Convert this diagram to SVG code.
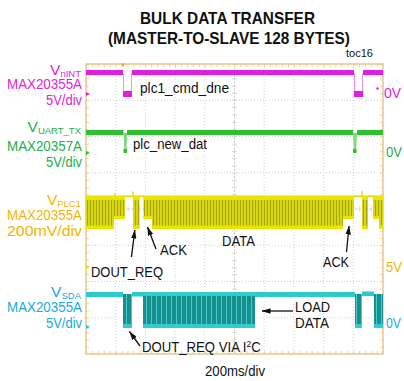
<svg xmlns="http://www.w3.org/2000/svg" width="404" height="381" viewBox="0 0 404 381">
  <style>
    text { font-family: "Liberation Sans", Arial, sans-serif; }
    .title { font-size: 16.5px; font-weight: bold; fill: #111; }
    .lbl { font-size: 15.5px; }
    .sub { font-size: 9.5px; }
    .note { font-size: 14px; fill: #111; }
    .pink { fill: #e01ed8; }
    .green { fill: #22b04a; }
    .amber { fill: #f2b400; }
    .sky { fill: #1aa8e0; }
    .grid { stroke: #cfcfcf; stroke-width: 1; stroke-dasharray: 1 2; fill: none; }
    .tick { stroke: #cfcfcf; fill: none; }
    .arrow { stroke: #111; stroke-width: 1.3; fill: none; marker-end: url(#head); }
  </style>
  <defs>
    <marker id="head" viewBox="0 0 10 6" refX="9.5" refY="3" markerWidth="9" markerHeight="5.4" markerUnits="userSpaceOnUse" orient="auto">
      <path d="M0,0 L10,3 L0,6 Z" fill="#111"/>
    </marker>
    <pattern id="yData" width="3" height="60" patternUnits="userSpaceOnUse">
      <rect width="3" height="60" fill="#d6d616"/>
      <rect width="1" height="60" fill="#a8a800"/>
    </pattern>
    <pattern id="cData" width="5" height="60" patternUnits="userSpaceOnUse">
      <rect width="5" height="60" fill="#169090"/>
      <rect x="1" width="1" height="60" fill="#4cc8c8"/>
    </pattern>
  </defs>

  <rect width="404" height="381" fill="#ffffff"/>

  <!-- heading -->
  <g id="heading">
    <text class="title" x="227.5" y="23.5" text-anchor="middle" textLength="175" lengthAdjust="spacingAndGlyphs">BULK DATA TRANSFER</text>
    <text class="title" x="229" y="43.5" text-anchor="middle" textLength="242" lengthAdjust="spacingAndGlyphs">(MASTER-TO-SLAVE 128 BYTES)</text>
    <text x="346" y="57" font-size="10.5" fill="#111" textLength="27" lengthAdjust="spacingAndGlyphs">toc16</text>
  </g>

  <!-- scope graticule -->
  <g id="graticule">
    <path class="grid" d="M115.7,64V354 M145.4,64V354 M175.1,64V354 M204.8,64V354 M264.2,64V354 M293.9,64V354 M323.6,64V354 M353.3,64V354"/>
    <path class="grid" d="M86,100.25H383 M86,136.5H383 M86,172.75H383 M86,245.25H383 M86,281.5H383 M86,317.75H383"/>
    <path d="M234.5,64V354 M86,209H383" stroke="#c8c8c8" stroke-width="1" stroke-dasharray="2 1.5" fill="none"/>
    <!-- minor ticks -->
    <path class="tick" d="M234.5,64V354" stroke-width="5" stroke-dasharray="0.8 6.45"/>
    <path class="tick" d="M86,209H383" stroke-width="5" stroke-dasharray="0.8 5.14"/>
    <path d="M86,352.5H383 M86,65.5H383" stroke="#e3c68e" stroke-width="3" stroke-dasharray="0.8 5.14" fill="none"/>
    <path d="M87.5,64V354 M381.5,64V354" stroke="#e3c68e" stroke-width="3" stroke-dasharray="0.8 6.45" fill="none"/>
    <rect x="86" y="64" width="297" height="290" fill="none" stroke="#e6c68a" stroke-width="1.5"/>
    <!-- trigger mark -->
    <path d="M121,63.5 L125,63.5 L123,67 Z" fill="#f0a020"/>
  </g>

  <!-- channel: nINT -->
  <g id="ch-nint">
    <rect x="86" y="70" width="37" height="5" fill="#e01ee0"/>
    <rect x="132" y="70" width="222" height="5" fill="#e01ee0"/>
    <rect x="363" y="70" width="20" height="5" fill="#e01ee0"/>
    <path d="M123.5,73V93 M131.5,73V93 M354.5,73V93 M362.5,73V93" stroke="#f090f0" stroke-width="1" fill="none"/>
    <rect x="123" y="91" width="9" height="6" fill="#e01ee0"/>
    <rect x="354" y="91" width="9" height="6" fill="#e01ee0"/>
    <path d="M86,92 L90,94 L86,96 Z" fill="#e01ee0"/>
    <circle cx="377.5" cy="88.5" r="1.2" fill="#e01ee0"/>
    <text class="lbl pink" x="81" y="74.5" text-anchor="end">V<tspan class="sub" dy="2">nINT</tspan></text>
    <text class="lbl pink" x="82" y="89" text-anchor="end" textLength="75" lengthAdjust="spacingAndGlyphs">MAX20355A</text>
    <text class="lbl pink" x="82" y="105" text-anchor="end" textLength="36" lengthAdjust="spacingAndGlyphs">5V/div</text>
    <text class="lbl pink" x="384" y="98" textLength="17" lengthAdjust="spacingAndGlyphs">0V</text>
  </g>

  <!-- channel: UART_TX -->
  <g id="ch-uart">
    <rect x="86" y="130" width="37.5" height="5" fill="#2dc12d"/>
    <rect x="127" y="130" width="226" height="5" fill="#2dc12d"/>
    <rect x="357" y="130" width="26" height="5" fill="#2dc12d"/>
    <path d="M123.5,133 L124.5,150 L126.5,150 L127,133 Z" fill="#7ad87a"/>
    <path d="M353,133 L354,150 L356,150 L357,133 Z" fill="#7ad87a"/>
    <rect x="123.5" y="149" width="3.5" height="4" fill="#2dc12d"/>
    <rect x="353" y="149" width="3.5" height="4" fill="#2dc12d"/>
    <path d="M86,151 L90,153 L86,155 Z" fill="#2dc12d"/>
    <text class="lbl green" x="81" y="131.5" text-anchor="end">V<tspan class="sub" dy="2">UART_TX</tspan></text>
    <text class="lbl green" x="82" y="151" text-anchor="end" textLength="75" lengthAdjust="spacingAndGlyphs">MAX20357A</text>
    <text class="lbl green" x="82" y="167" text-anchor="end" textLength="36" lengthAdjust="spacingAndGlyphs">5V/div</text>
    <text class="lbl green" x="386" y="157" textLength="16" lengthAdjust="spacingAndGlyphs">0V</text>
  </g>

  <!-- channel: PLC1 -->
  <g id="ch-plc1">
    <rect x="86" y="195.5" width="297" height="1.6" fill="#dada00"/>
    <g fill="url(#yData)">
      <rect x="86" y="196" width="28" height="33"/>
      <rect x="133" y="196" width="6.5" height="33"/>
      <rect x="152" y="196" width="191" height="33"/>
      <rect x="362" y="196" width="6" height="33"/>
      <rect x="379" y="196" width="4" height="33"/>
      <rect x="114" y="196" width="11" height="23"/>
      <rect x="143.5" y="196" width="8.5" height="23"/>
      <rect x="343" y="196" width="11" height="23"/>
      <rect x="373" y="196" width="6" height="23"/>
    </g>
    <g fill="#e6e600">
      <rect x="86" y="196" width="28" height="4"/>
      <rect x="133" y="196" width="6.5" height="4"/>
      <rect x="152" y="196" width="191" height="4"/>
      <rect x="362" y="196" width="6" height="4"/>
      <rect x="379" y="196" width="4" height="4"/>
      <rect x="114" y="196" width="11" height="4"/>
      <rect x="143.5" y="196" width="8.5" height="4"/>
      <rect x="343" y="196" width="11" height="4"/>
      <rect x="373" y="196" width="6" height="4"/>
      <rect x="86" y="225.5" width="28" height="3.5"/>
      <rect x="133" y="225.5" width="6.5" height="3.5"/>
      <rect x="152" y="225.5" width="191" height="3.5"/>
      <rect x="362" y="225.5" width="6" height="3.5"/>
      <rect x="379" y="225.5" width="4" height="3.5"/>
      <rect x="114" y="216" width="11" height="3"/>
      <rect x="143.5" y="216" width="8.5" height="3"/>
      <rect x="343" y="216" width="11" height="3"/>
      <rect x="373" y="216" width="6" height="3"/>
    </g>
    <path d="M115,193V197 M133,191.5V197 M362,191V197" stroke="#d8d800" stroke-width="1.2" fill="none"/>
    <path d="M86,265 L90,267 L86,269 Z" fill="#e8e000"/>
    <text class="lbl amber" x="81" y="204.5" text-anchor="end">V<tspan class="sub" dy="2">PLC1</tspan></text>
    <text class="lbl amber" x="82" y="220" text-anchor="end" textLength="75" lengthAdjust="spacingAndGlyphs">MAX20355A</text>
    <text class="lbl amber" x="82" y="235.5" text-anchor="end" textLength="75" lengthAdjust="spacingAndGlyphs">200mV/div</text>
    <text class="lbl amber" x="386" y="272" textLength="16" lengthAdjust="spacingAndGlyphs">5V</text>
  </g>

  <!-- channel: SDA -->
  <g id="ch-sda">
    <g fill="#2ccaca">
      <rect x="86" y="292" width="37" height="5"/>
      <rect x="132" y="292" width="11" height="4.5"/>
      <rect x="255" y="292" width="100" height="5"/>
      <rect x="362" y="291.5" width="12" height="4.5"/>
    </g>
    <g fill="url(#cData)">
      <rect x="123" y="294" width="9" height="34"/>
      <rect x="143" y="292" width="112" height="36"/>
      <rect x="355" y="294" width="7" height="34"/>
      <rect x="374" y="294" width="9" height="34"/>
    </g>
    <g fill="#33cccc">
      <rect x="143" y="292" width="112" height="4"/>
      <rect x="123" y="324" width="9" height="4"/>
      <rect x="143" y="324" width="112" height="4"/>
      <rect x="355" y="324" width="7" height="4"/>
      <rect x="374" y="324" width="9" height="4"/>
    </g>
    <path d="M86,325 L90,327 L86,329 Z" fill="#2ccaca"/>
    <text class="lbl sky" x="81" y="296.5" text-anchor="end">V<tspan class="sub" dy="2">SDA</tspan></text>
    <text class="lbl sky" x="82" y="312" text-anchor="end" textLength="75" lengthAdjust="spacingAndGlyphs">MAX20355A</text>
    <text class="lbl sky" x="82" y="327.5" text-anchor="end" textLength="36" lengthAdjust="spacingAndGlyphs">5V/div</text>
    <text class="lbl sky" x="386" y="327.5" textLength="15" lengthAdjust="spacingAndGlyphs">0V</text>
  </g>

  <!-- annotation texts -->
  <g id="notes">
    <text class="note" x="140" y="92.5" textLength="89" lengthAdjust="spacingAndGlyphs">plc1_cmd_dne</text>
    <text class="note" x="133" y="149" textLength="74" lengthAdjust="spacingAndGlyphs">plc_new_dat</text>
    <text class="note" x="222" y="245.5" textLength="33" lengthAdjust="spacingAndGlyphs">DATA</text>
    <text class="note" x="160" y="255" textLength="27" lengthAdjust="spacingAndGlyphs">ACK</text>
    <text class="note" x="91" y="277" textLength="72" lengthAdjust="spacingAndGlyphs">DOUT_REQ</text>
    <text class="note" x="323" y="267" textLength="26" lengthAdjust="spacingAndGlyphs">ACK</text>
    <text class="note" x="295" y="312" textLength="35" lengthAdjust="spacingAndGlyphs">LOAD</text>
    <text class="note" x="295" y="328" textLength="34" lengthAdjust="spacingAndGlyphs">DATA</text>
    <text class="note" transform="translate(142,352) scale(0.94,1)">DOUT_REQ VIA I<tspan font-size="9" dy="-5">2</tspan><tspan dy="5">C</tspan></text>
    <text class="note" x="235" y="376" text-anchor="middle" font-size="14.5" textLength="60" lengthAdjust="spacingAndGlyphs">200ms/div</text>
  </g>

  <!-- connectors -->
  <g id="connectors">
    <path class="arrow" d="M131.5,257 L134.8,230"/>
    <path class="arrow" d="M156,249 L147.5,227"/>
    <path class="arrow" d="M346.5,252 L349,226"/>
    <path class="arrow" d="M293,311 L262,311"/>
    <path class="arrow" d="M140,346 L129.5,331.5"/>
  </g>
</svg>
